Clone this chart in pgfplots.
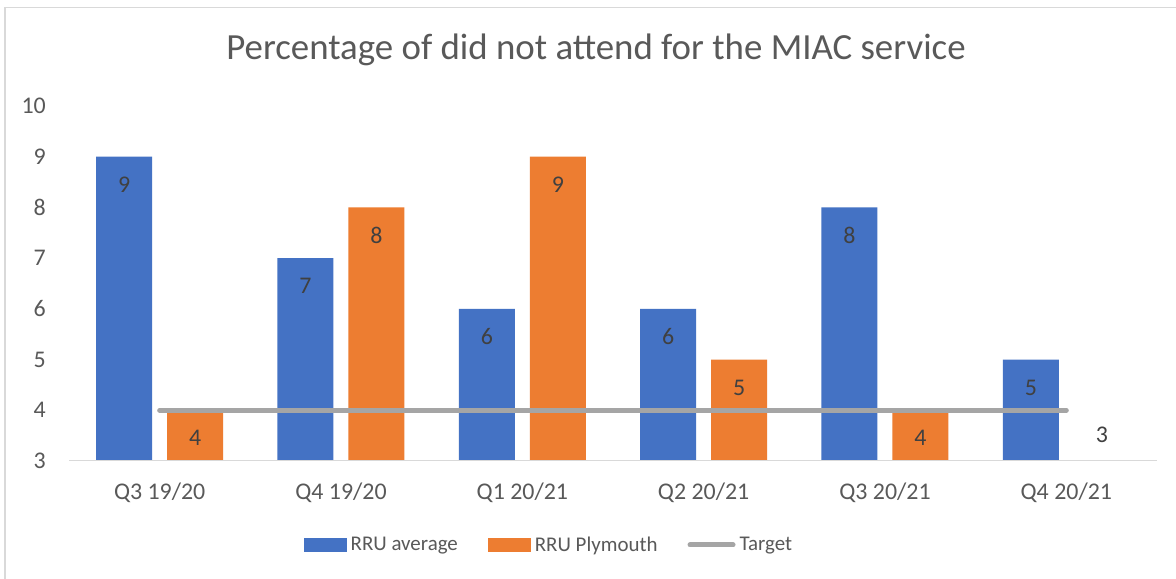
\documentclass[border=0pt]{standalone}
\usepackage{pgfplots}
\pgfplotsset{compat=1.18}
\usepackage{fontspec}
\setmainfont{Carlito}
\definecolor{cblue}{HTML}{4472C4}
\definecolor{corange}{HTML}{ED7D31}
\definecolor{cgray}{HTML}{A5A5A5}
\definecolor{ctext}{HTML}{595959}
\definecolor{clabel}{HTML}{404040}
\definecolor{cframe}{HTML}{D9D9D9}
\begin{document}
\begin{tikzpicture}[x=1bp,y=1bp]
\useasboundingbox (0,0) rectangle (1176,579);
\fill[white] (0,0) rectangle (1176,579);
\draw[cframe, line width=1.5bp] (5,-5) -- (5,571.5) -- (1185,571.5);
\node[text=ctext, font=\fontsize{37}{44}\selectfont] at (596,529) {Percentage of did not attend for the MIAC service};
\begin{axis}[
  at={(69bp,118bp)}, anchor=south west,
  scale only axis, width=1088bp, height=355bp,
  xmin=-0.5, xmax=5.5, ymin=3, ymax=10,
  axis line style={draw=none},
  tick style={draw=none},
  xtick={0,1,2,3,4,5},
  xticklabels={Q3 19/20,Q4 19/20,Q1 20/21,Q2 20/21,Q3 20/21,Q4 20/21},
  ytick={3,4,5,6,7,8,9,10},
  /pgf/number format/assume math mode=true,
  ticklabel style={font=\fontsize{24}{28}\selectfont, text=ctext},
  yticklabel style={anchor=east, inner sep=0pt, xshift=-23bp},
  xticklabel style={anchor=north, inner sep=0pt, yshift=-22bp},
  legend columns=3,
  legend style={draw=none, fill=none, at={(0.442,-0.2366)}, anchor=center,
    font=\fontsize{21}{25}\selectfont, text=ctext,
    nodes={inner sep=4bp},
    /tikz/every even column/.append style={column sep=26bp}},
  legend cell align=left,
  clip=true,
]
\addplot[ybar, bar width=56bp, bar shift=-35.5bp, fill=cblue, draw=none,
  legend image code/.code={\fill[cblue] (0bp,-7bp) rectangle (43bp,7bp);},
  nodes near coords,
  every node near coord/.append style={anchor=center, xshift=-35.5bp, yshift=-28bp, text=clabel, font=\fontsize{24}{28}\selectfont}]
  coordinates {(0,9) (1,7) (2,6) (3,6) (4,8) (5,5)};
\addlegendentry{RRU average}
\addplot[ybar, bar width=56bp, bar shift=35.5bp, fill=corange, draw=none,
  legend image code/.code={\fill[corange] (0bp,-7bp) rectangle (43bp,7bp);},
  nodes near coords,
  every node near coord/.append style={anchor=center, xshift=35.5bp, yshift=-28bp, text=clabel, font=\fontsize{24}{28}\selectfont}]
  coordinates {(0,4) (1,8) (2,9) (3,5) (4,4)};
\addlegendentry{RRU Plymouth}
\addplot[cgray, line width=5bp, line cap=round,
  legend image code/.code={\draw[cgray, line width=5bp, line cap=round] (2bp,0bp) -- (45bp,0bp);}]
  coordinates {(0,4) (5,4)};
\addlegendentry{Target}
\addplot[forget plot, ybar, bar width=56bp, bar shift=35.5bp, fill=corange, draw=none,
  nodes near coords,
  every node near coord/.append style={anchor=center, xshift=35.5bp, yshift=26bp, text=clabel, font=\fontsize{24}{28}\selectfont}]
  coordinates {(5,3)};
\draw[cframe, line width=1.5bp] (axis cs:-0.5,3) -- (axis cs:5.5,3);
\end{axis}
\end{tikzpicture}
\end{document}
